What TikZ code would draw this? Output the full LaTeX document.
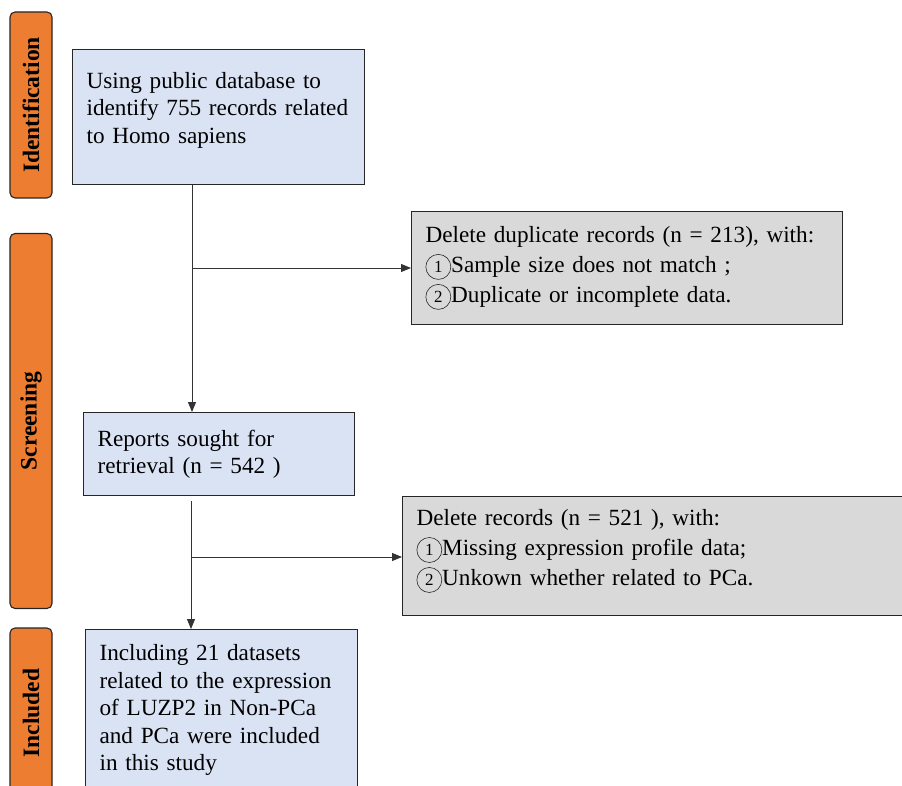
\documentclass[tikz,border=0pt]{standalone}
\usepackage{fontspec}
\setmainfont{Liberation Serif}
\usepackage{tikz}
\usetikzlibrary{arrows.meta, positioning, calc}
\definecolor{morange}{HTML}{ED7D31}
\definecolor{mblue}{HTML}{DAE3F3}
\definecolor{mgrey}{HTML}{D9D9D9}
\definecolor{mline}{HTML}{333333}
\newcommand{\cnum}[1]{\tikz[baseline=(cn.base)]\node[draw=black!85, circle, line width=0.6pt,
  inner sep=0pt, minimum size=25pt, font=\fontsize{17}{17}\selectfont] (cn) {#1};}
\newcommand{\lowgap}[1]{\rule[-#1]{0pt}{#1}}
\tikzset{
  stagebar/.style={draw=black!85, fill=morange, rounded corners=5pt, line width=1.1pt,
                   minimum height=42pt, rotate=90, inner sep=0pt,
                   font=\fontsize{23.5}{26}\selectfont\bfseries},
  bbox/.style={draw=black!85, fill=mblue, line width=1.1pt, anchor=north west, align=left,
               inner xsep=14pt, inner ysep=6pt, font=\fontsize{23.2}{27.5}\selectfont},
  gbox/.style={draw=black!85, fill=mgrey, line width=1.1pt, anchor=north west, align=left,
               inner xsep=14pt, inner ysep=6pt, font=\fontsize{23.2}{30}\selectfont},
  arr/.style={-{Triangle[length=10pt,width=8pt]}, line width=0.9pt, mline},
}
\begin{document}
\begin{tikzpicture}[x=1pt, y=-1pt]
  \useasboundingbox (0,0) rectangle (902,786);

  %% Stage bars
  \node[stagebar, minimum width=186pt] (sid) at (31,105) {Identification};
  \node[stagebar, minimum width=375pt] (sscr) at (31,421) {Screening};
  \node[stagebar, minimum width=170pt] (sinc) at (31,713) {Included};

  %% Main boxes
  \node[bbox, text width=264pt, minimum height=135pt] (ident) at (72,49)
    {Using public database to\\identify 755 records related\\to Homo sapiens\lowgap{19pt}};
  \node[bbox, text width=243pt, minimum height=83pt] (retr) at (83,412)
    {Reports sought for\\retrieval (n = 542 )};
  \node[bbox, text width=244pt, minimum height=161pt] (incl) at (85,629)
    {Including 21 datasets\\related to the expression\\of LUZP2 in Non-PCa\\and PCa were included\\in this study};

  %% Exclusion boxes
  \node[gbox, text width=403pt, minimum height=113pt] (dup) at (411,211)
    {Delete duplicate records (n = 213), with:\\\cnum{1}Sample size does not match ;\\\cnum{2}Duplicate or incomplete data.};
  \node[gbox, text width=500pt, minimum height=119pt] (delrec) at (402,496)
    {Delete records (n = 521 ), with:\\\cnum{1}Missing expression profile data;\\\cnum{2}Unkown whether related to PCa.\lowgap{17pt}};

  %% Connectors
  \coordinate (j1) at (192,268);
  \coordinate (j2) at (191,557);
  \draw[arr] (ident.south -| j1) -- (retr.north -| j1);
  \draw[arr] (j1) -- (j1 -| dup.west);
  \draw[arr, shorten <=5pt] (retr.south -| j2) -- (incl.north -| j2);
  \draw[arr] (j2) -- (j2 -| delrec.west);

\end{tikzpicture}
\end{document}
